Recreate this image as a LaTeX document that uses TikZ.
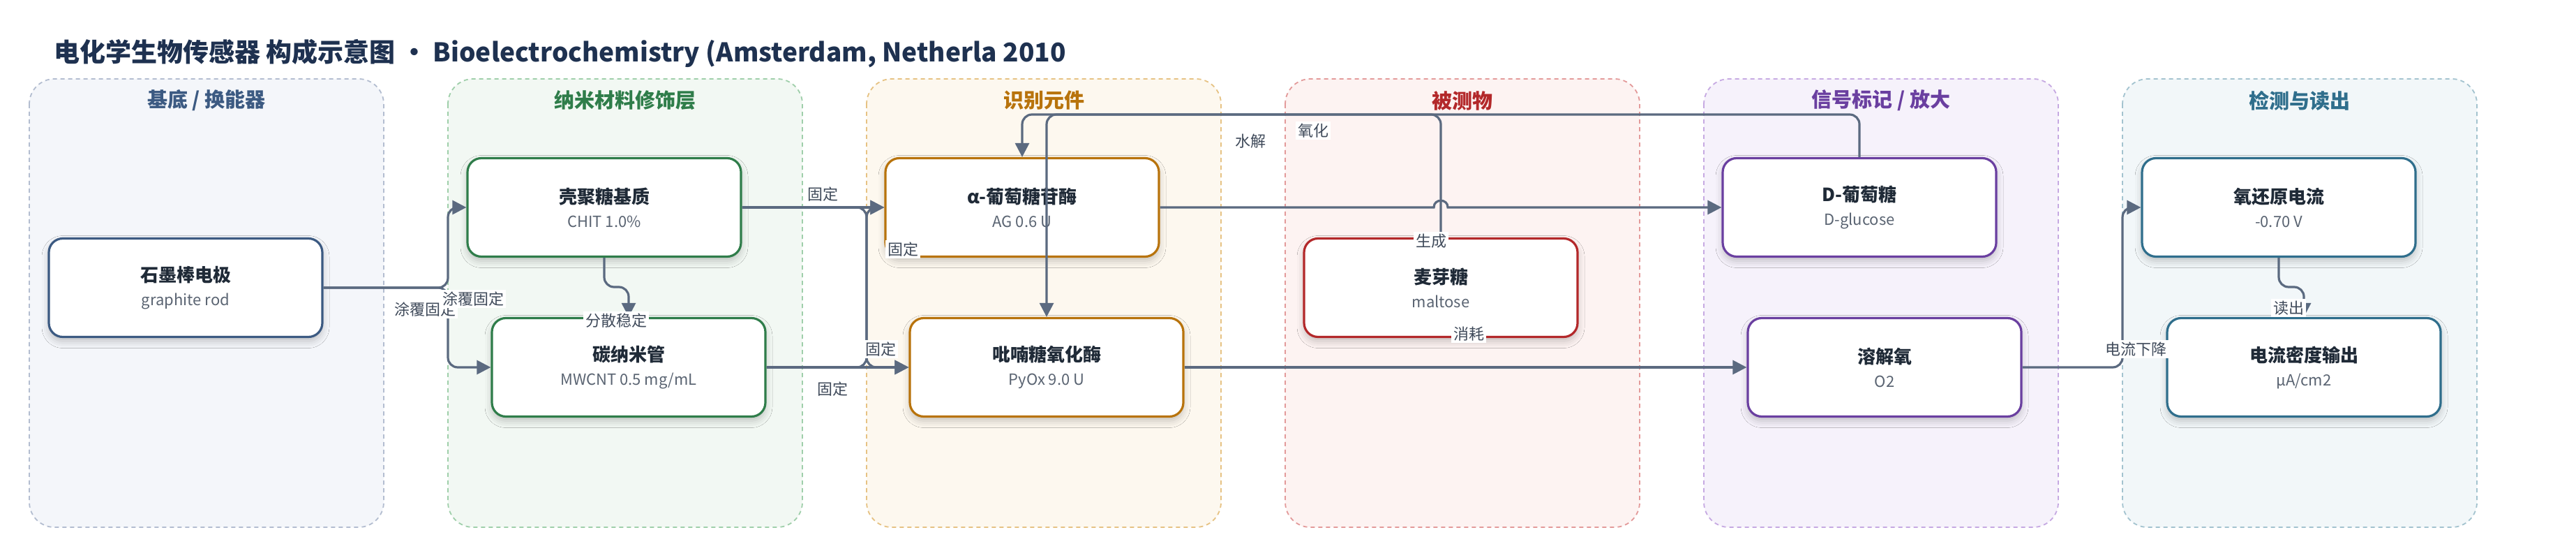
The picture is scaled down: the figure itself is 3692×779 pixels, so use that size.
\documentclass[tikz,border=0pt]{standalone}
\usepackage{fontspec}
\setmainfont{Noto Sans CJK SC}
\usetikzlibrary{arrows.meta,calc,shadows.blur}
\definecolor{edgec}{HTML}{5B6A80}
\definecolor{lblc}{HTML}{3F4A5A}
\definecolor{titlec}{HTML}{1E3150}
\definecolor{ntextc}{HTML}{1F2A37}
\definecolor{subc}{HTML}{5A6472}
\definecolor{cA}{HTML}{3C5A82}\definecolor{fA}{HTML}{F4F6FA}\definecolor{dA}{HTML}{B3BDD0}
\definecolor{cB}{HTML}{2F7D4A}\definecolor{fB}{HTML}{F2F8F3}\definecolor{dB}{HTML}{9FCFAA}
\definecolor{cC}{HTML}{B8730C}\definecolor{fC}{HTML}{FDF8EF}\definecolor{dC}{HTML}{E6C283}
\definecolor{cD}{HTML}{B3282A}\definecolor{fD}{HTML}{FDF3F2}\definecolor{dD}{HTML}{E39A9A}
\definecolor{cE}{HTML}{6A3FA0}\definecolor{fE}{HTML}{F6F2FB}\definecolor{dE}{HTML}{C6A9E2}
\definecolor{cF}{HTML}{2F6E8C}\definecolor{fF}{HTML}{F2F7F9}\definecolor{dF}{HTML}{A3C3CF}
\newcommand{\ntext}[2]{{\bfseries #1}\\{\fontsize{11pt}{17pt}\selectfont\color{subc}#2}}
\tikzset{
  lanebox/.style 2 args={fill=#1, draw=#2, line width=0.9pt, dash pattern=on 3pt off 2.5pt, rounded corners=18pt},
  lanetitle/.style={font=\bfseries\fontsize{14.5pt}{16pt}\selectfont, text=#1},
  nodebox/.style={draw=#1, line width=1.6pt, fill=white, rounded corners=10pt,
    minimum width=196pt, minimum height=70.5pt, align=center, inner sep=0pt,
    blur shadow={shadow xshift=0pt, shadow yshift=-3pt, shadow blur radius=5pt, shadow opacity=22},
    font=\fontsize{13pt}{17pt}\selectfont, text=ntextc},
  conn/.style={draw=edgec, line width=1.6pt, rounded corners=7pt, -{Triangle[length=10pt,width=10pt]}},
  plainconn/.style={draw=edgec, line width=1.6pt, -{Triangle[length=10pt,width=10pt]}},
  lbl/.style={fill=white, inner sep=1.5pt, font=\fontsize{11pt}{13pt}\selectfont, text=lblc}
}
\begin{document}
\begin{tikzpicture}[x=0.5pt,y=-0.5pt]
\useasboundingbox[fill=white] (0,0) rectangle (3692,779);
% title
\node[anchor=west, font=\bfseries\fontsize{18.5pt}{22pt}\selectfont, text=titlec, inner sep=0pt] (title) at (77,77) {电化学生物传感器 构成示意图 · Bioelectrochemistry (Amsterdam, Netherla 2010};
% lanes
\draw[lanebox={fA}{dA}] (42,113) rectangle (550,755);
\draw[lanebox={fB}{dB}] (642,113) rectangle (1150,755);
\draw[lanebox={fC}{dC}] (1242,113) rectangle (1750,755);
\draw[lanebox={fD}{dD}] (1842,113) rectangle (2350,755);
\draw[lanebox={fE}{dE}] (2442,113) rectangle (2950,755);
\draw[lanebox={fF}{dF}] (3042,113) rectangle (3550,755);
\node[lanetitle=cA] (t1) at (296,144) {基底 / 换能器};
\node[lanetitle=cB] (t2) at (896,144) {纳米材料修饰层};
\node[lanetitle=cC] (t3) at (1496,144) {识别元件};
\node[lanetitle=cD] (t4) at (2096,144) {被测物};
\node[lanetitle=cE] (t5) at (2696,144) {信号标记 / 放大};
\node[lanetitle=cF] (t6) at (3296,144) {检测与读出};
% nodes
\node[nodebox=cA] (graphite) at (266,412) {\ntext{石墨棒电极}{graphite rod}};
\node[nodebox=cB] (chit) at (866,297) {\ntext{壳聚糖基质}{CHIT 1.0\%}};
\node[nodebox=cB] (cnt) at (901,526) {\ntext{碳纳米管}{MWCNT 0.5 mg/mL}};
\node[nodebox=cC] (ag) at (1465,297) {\ntext{α-葡萄糖苷酶}{AG 0.6 U}};
\node[nodebox=cC] (pyox) at (1500,526) {\ntext{吡喃糖氧化酶}{PyOx 9.0 U}};
\node[nodebox=cD] (maltose) at (2065,412) {\ntext{麦芽糖}{maltose}};
\node[nodebox=cE] (glucose) at (2665,297) {\ntext{D-葡萄糖}{D-glucose}};
\node[nodebox=cE] (o2) at (2701,526) {\ntext{溶解氧}{O2}};
\node[nodebox=cF] (orr) at (3266,297) {\ntext{氧还原电流}{-0.70 V}};
\node[nodebox=cF] (out) at (3302,526) {\ntext{电流密度输出}{μA/cm2}};
% helper coordinates
\coordinate (j1) at (642,412);
\coordinate (j2) at (1242,400);
\coordinate (j3) at (3042,400);
\coordinate (topch) at (0,164);
\coordinate (jog) at (0,411);
\coordinate (hop) at (maltose.north |- ag.east);
% edges
\draw[conn] (graphite.east) -- (j1) -- (j1 |- chit.west) -- (chit.west);
\draw[conn] (graphite.east) -- (j1) -- (j1 |- cnt.west) -- (cnt.west);
\draw[conn] (chit.south) -- (chit.south |- jog) -- (cnt.north |- jog) -- (cnt.north);
\draw[conn] (chit.east) -- (ag.west);
\draw[conn] (chit.east) -- (j2 |- chit.east) -- (j2 |- pyox.west) -- (pyox.west);
\draw[conn] (cnt.east) -- (pyox.west);
\draw[conn] (cnt.east) -- (j2 |- cnt.east) -- (j2 |- ag.west) -- (ag.west);
\draw[conn] (maltose.north) -- (maltose.north |- topch) -- (ag.north |- topch) -- (ag.north);
\draw[conn] (glucose.north) -- (glucose.north |- topch) -- (pyox.north |- topch) -- (pyox.north);
\draw[plainconn] (ag.east) -- ($(hop)+(-10,0)$) .. controls ($(hop)+(-10,-13)$) and ($(hop)+(10,-13)$) .. ($(hop)+(10,0)$) -- (glucose.west);
\draw[conn] (pyox.east) -- (o2.west);
\draw[conn] (o2.east) -- (j3 |- o2.east) -- (j3 |- orr.west) -- (orr.west);
\draw[conn] (orr.south) -- (orr.south |- jog) -- (out.north |- jog) -- (out.north);
% labels
\node[lbl] (l2) at (609,443) {涂覆固定};
\node[lbl] (l1) at (678,428) {涂覆固定};
\node[lbl] (l3) at (883,459) {分散稳定};
\node[lbl] (l4) at (1179,278) {固定};
\node[lbl] (l5) at (1294,357) {固定};
\node[lbl] (l6) at (1262,500) {固定};
\node[lbl] (l7) at (1193,557) {固定};
\node[lbl] (l8) at (1792,202) {水解};
\node[lbl] (l9) at (1882,187) {氧化};
\node[lbl] (l10) at (2051,345) {生成};
\node[lbl] (l11) at (2105,478) {消耗};
\node[lbl] (l12) at (3061,500) {电流下降};
\node[lbl] (l13) at (3280,441) {读出};
\end{tikzpicture}
\end{document}
